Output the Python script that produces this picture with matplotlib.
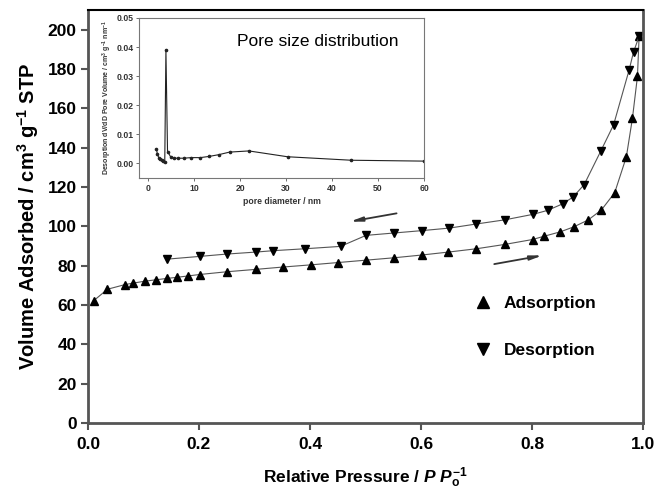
import matplotlib.pyplot as plt
from matplotlib.lines import Line2D

plt.rcParams['font.family'] = ['Liberation Sans', 'DejaVu Sans']
plt.rcParams['mathtext.fontset'] = 'custom'
plt.rcParams['mathtext.rm'] = 'Liberation Sans:bold'
plt.rcParams['mathtext.it'] = 'Liberation Sans:italic:bold'
plt.rcParams['mathtext.bf'] = 'Liberation Sans:bold'

# adsorption branch
ads_p = [0.010, 0.035, 0.067, 0.081, 0.102, 0.122, 0.142, 0.161, 0.181, 0.201,
         0.250, 0.302, 0.351, 0.401, 0.451, 0.501, 0.551, 0.601, 0.649, 0.700,
         0.751, 0.801, 0.821, 0.851, 0.875, 0.901, 0.925, 0.949, 0.970, 0.981,
         0.990, 0.993]
ads_v = [62.1, 68.0, 70.4, 71.1, 72.1, 72.8, 73.5, 74.1, 74.8, 75.5,
         76.9, 78.1, 79.3, 80.4, 81.6, 82.8, 84.0, 85.4, 86.9, 88.6,
         90.8, 93.3, 94.9, 97.2, 99.7, 103.2, 108.3, 117.1, 135.3, 155.0,
         176.2, 196.6]

# desorption branch
des_p = [0.993, 0.983, 0.975, 0.947, 0.924, 0.894, 0.874, 0.855, 0.828, 0.802,
         0.751, 0.700, 0.651, 0.601, 0.551, 0.501, 0.455, 0.391, 0.333, 0.302,
         0.250, 0.201, 0.142]
des_v = [196.6, 188.7, 179.5, 151.6, 138.3, 121.2, 114.9, 111.4, 108.1, 106.1,
         103.3, 101.2, 99.1, 97.8, 96.6, 95.4, 89.8, 88.6, 87.6, 86.9,
         85.9, 84.7, 83.3]

# pore size distribution (inset)
pore_d = [1.8, 2.0, 2.3, 2.6, 2.9, 3.3, 3.6, 3.85, 4.2, 4.9, 5.6, 6.4, 7.7,
          9.3, 11.3, 13.2, 15.3, 17.7, 21.9, 30.3, 44.2, 60.0]
pore_v = [0.0049, 0.0031, 0.0020, 0.0015, 0.0012, 0.0009, 0.0006, 0.039,
          0.0041, 0.0022, 0.0018, 0.0018, 0.0018, 0.0020, 0.0020, 0.0024,
          0.0030, 0.0039, 0.0043, 0.0023, 0.0011, 0.0008]

grey = '#555555'

fig = plt.figure(figsize=(6.7, 4.94), dpi=100)
ax = fig.add_axes([0.1313, 0.1437, 0.8284, 0.8361])

ax.plot(ads_p, ads_v, color=grey, lw=0.8, marker='^', ms=5.5,
        mfc='black', mec='black')
ax.plot(des_p, des_v, color=grey, lw=0.8, marker='v', ms=5.5,
        mfc='black', mec='black')

ax.set_xlim(0, 1.0)
ax.set_ylim(0, 210)
ax.set_xticks([0.0, 0.2, 0.4, 0.6, 0.8, 1.0])
ax.set_yticks(range(0, 201, 20))
ax.tick_params(direction='out', length=5, width=1.5, color=grey,
               labelsize=12.5, pad=3)
for lab in ax.get_xticklabels() + ax.get_yticklabels():
    lab.set_fontweight('bold')
ax.tick_params(axis='x', pad=5)

for side in ['left', 'bottom', 'right']:
    ax.spines[side].set_color(grey)
    ax.spines[side].set_linewidth(2)
ax.spines['top'].set_color('black')
ax.spines['top'].set_linewidth(1.5)

ax.set_xlabel(r'Relative Pressure / $\mathit{P}$ $\mathit{P}_{\mathrm{o}}^{\mathrm{-1}}$',
              fontsize=12.5, fontweight='bold', labelpad=10)
ax.set_ylabel(r'Volume Adsorbed / cm$^{3}$ g$^{\mathrm{-1}}$ STP',
              fontsize=14.5, fontweight='bold', labelpad=5)

# direction arrows
arrow = dict(arrowstyle='-|>,head_length=0.7,head_width=0.13',
             color='#333333', lw=1.3, shrinkA=0, shrinkB=0)
ax.annotate('', xy=(0.472, 102.4), xytext=(0.556, 106.6), arrowprops=arrow)
ax.annotate('', xy=(0.819, 85.2), xytext=(0.732, 80.8), arrowprops=arrow)

handles = [Line2D([], [], ls='none', marker='^', ms=9, color='black'),
           Line2D([], [], ls='none', marker='v', ms=9, color='black')]
leg = ax.legend(handles, ['Adsorption', 'Desorption'], loc='upper left',
                bbox_to_anchor=(0.668, 0.345), frameon=False,
                prop={'size': 12.5, 'weight': 'bold'}, labelspacing=1.8,
                handlelength=1.0, handletextpad=0.7)

# inset
ins = fig.add_axes([0.2075, 0.6397, 0.4254, 0.3239])
ins.plot(pore_d, pore_v, color='#222222', lw=0.8, marker='o', ms=1.6)
ins.set_xlim(-2, 60)
ins.set_ylim(-0.005, 0.05)
ins.set_xticks(range(0, 61, 10))
ins.set_yticks([0.00, 0.01, 0.02, 0.03, 0.04, 0.05])
ins.set_yticklabels(['0.00', '0.01', '0.02', '0.03', '0.04', '0.05'])
ins.tick_params(direction='out', length=2, width=0.6, color=grey,
                labelsize=6.2, labelcolor='#333333', pad=2)
for lab in ins.get_xticklabels() + ins.get_yticklabels():
    lab.set_fontweight('bold')
for side in ins.spines:
    ins.spines[side].set_color('#777777')
    ins.spines[side].set_linewidth(0.8)
ins.set_xlabel('pore diameter / nm', fontsize=6.2, fontweight='bold',
               color='#333333', labelpad=3)
ins.set_ylabel(r'Desorption dV/dD Pore Volume / cm$^{3}$ g$^{\mathrm{-1}}$ nm$^{\mathrm{-1}}$',
               fontsize=5, fontweight='bold', color='#333333', labelpad=2)
ins.text(0.91, 0.85, 'Pore size distribution', transform=ins.transAxes,
         ha='right', va='center', fontsize=12.5)

fig.savefig('out.png', dpi=100)
